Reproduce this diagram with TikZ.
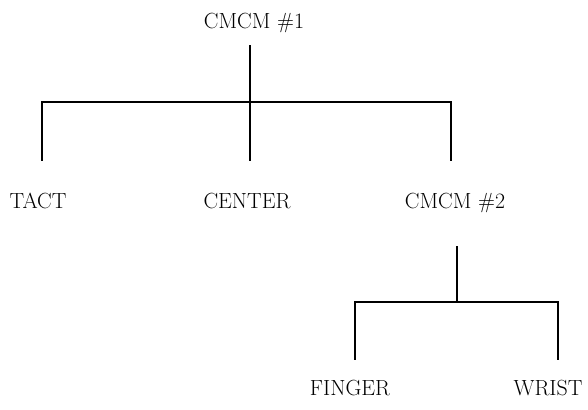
\documentclass[tikz,border=0pt]{standalone}
\usetikzlibrary{calc}
\tikzset{
  box/.style={
    anchor=base,
    inner sep=0pt,
    font=\fontsize{22}{26}\selectfont
  },
  bar/.style={
    line width=1.6bp,
    line cap=rect
  }
}

\begin{document}
\begin{tikzpicture}[x=1bp,y=1bp]
    \useasboundingbox (0,0) rectangle (588,409);
    % modules
    \node[box] (cmcm1) at (254,381) {CMCM \#1};
    \node[box] (tact) at (38,201) {TACT};
    \node[box] (center) at (247,201) {CENTER};
    \node[box] (cmcm2) at (455,201) {CMCM \#2};
    \node[box] (finger) at (350,14) {FINGER};
    \node[box] (wrist) at (548,14) {WRIST};
    % upper level
    \coordinate (j1) at (250,307);
    \coordinate (j1l) at (42,307);
    \coordinate (j1r) at (451,307);
    \draw[bar,shorten <=18bp] (cmcm1.base -| j1) -- (j1);
    \draw[bar] (j1l) -- (j1r);
    \foreach \c in {j1l,j1,j1r}{
        \draw[bar] (\c) --++ (0,-58);
    }
    % lower level
    \coordinate (j2) at (457,107);
    \coordinate (j2l) at (355,107);
    \coordinate (j2r) at (558,107);
    \draw[bar,shorten <=39bp] (cmcm2.base -| j2) -- (j2);
    \draw[bar] (j2l) -- (j2r);
    \foreach \c in {j2l,j2r}{
        \draw[bar] (\c) --++ (0,-57);
    }
\end{tikzpicture}
\end{document}
